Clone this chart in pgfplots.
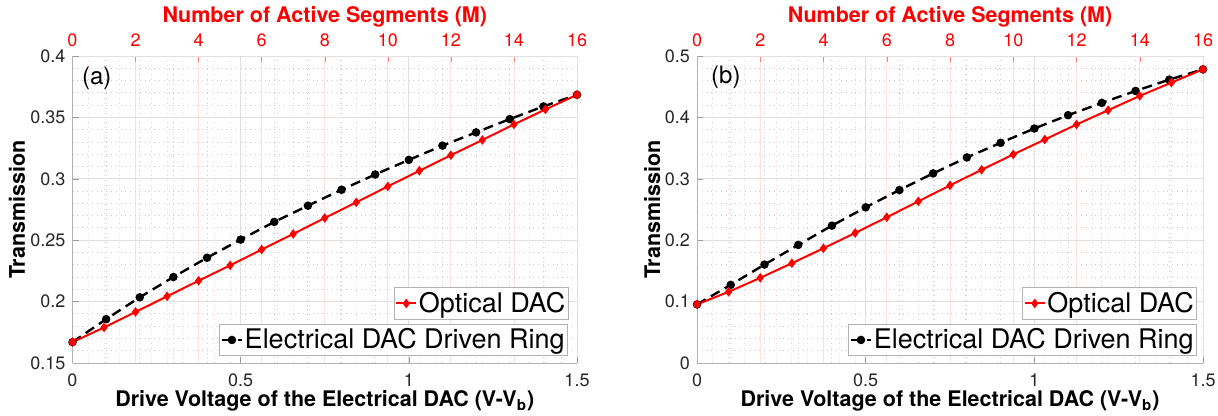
\documentclass[border=0pt]{standalone}
\usepackage{fontspec}
\setmainfont{TeX Gyre Heros}
\usepackage{pgfplots}
\usepackage{pgfplotstable}
\pgfplotsset{compat=1.18}

% Transmission vs. drive voltage, panel (a)
\pgfplotstableread{
x y
0       0.1670
0.09375 0.1789
0.1875  0.1916
0.28125 0.2043
0.375   0.2170
0.46875 0.2295
0.5625  0.2424
0.65625 0.2551
0.75    0.2681
0.84375 0.2808
0.9375  0.2938
1.03125 0.3065
1.125   0.3192
1.21875 0.3316
1.3125  0.3443
1.40625 0.3565
1.5     0.3684
}\opticalA
\pgfplotstableread{
x y
0.0 0.1670
0.1 0.1857
0.2 0.2035
0.3 0.2200
0.4 0.2357
0.5 0.2505
0.6 0.2649
0.7 0.2781
0.8 0.2911
0.9 0.3035
1.0 0.3154
1.1 0.3270
1.2 0.3378
1.3 0.3486
1.4 0.3589
1.5 0.3684
}\electricalA
% panel (b)
\pgfplotstableread{
x y
0       0.0955
0.09375 0.1159
0.1875  0.1387
0.28125 0.1625
0.375   0.1869
0.46875 0.2118
0.5625  0.2373
0.65625 0.2633
0.75    0.2893
0.84375 0.3147
0.9375  0.3397
1.03125 0.3640
1.125   0.3884
1.21875 0.4117
1.3125  0.4350
1.40625 0.4567
1.5     0.4783
}\opticalB
\pgfplotstableread{
x y
0.0 0.0955
0.1 0.1273
0.2 0.1603
0.3 0.1923
0.4 0.2237
0.5 0.2535
0.6 0.2817
0.7 0.3088
0.8 0.3348
0.9 0.3586
1.0 0.3819
1.1 0.4036
1.2 0.4236
1.3 0.4431
1.4 0.4615
1.5 0.4783
}\electricalB

\newcommand{\tickfont}{\fontsize{9}{11}\selectfont}
\newcommand{\labfont}{\bfseries\fontsize{10.75}{13}\selectfont}

\pgfplotsset{
  frame/.style={
    anchor=south west, scale only axis, height=153.5pt,
    tick align=inside, major tick length=3pt, minor tick length=0pt,
    ticklabel style={font=\tickfont},
  },
  % top scale: number of active segments, with its own grid
  segscale/.style={
    frame, xmin=0, xmax=16, ymin=0, ymax=1,
    axis x line*=top, axis y line*=right,
    x axis line style={red!45, -}, y axis line style={black!30, -},
    xtick={0,2,...,16}, xticklabels={0,2,4,6,8,10,12,14,16},
    minor x tick num=3, ytick=\empty,
    xmajorgrids, xminorgrids,
    major x grid style={red!12, line width=0.4pt},
    minor x grid style={red!20, dotted, line width=0.45pt},
    x tick style={red!50},
    xticklabel style={text=red, anchor=base, yshift=4.6pt},
    xlabel={Number of Active Segments (M)},
    xlabel style={font=\labfont, text=red, at={(rel axis cs:0.5,1)}, anchor=base, yshift=16.5pt},
  },
  % bottom scale: drive voltage, carries the data
  volt/.style={
    frame, xmin=0, xmax=1.5,
    axis x line*=bottom, axis y line*=left,
    axis line style={black!30, -},
    xtick={0,0.5,1,1.5}, xticklabels={0,0.5,1,1.5},
    minor x tick num=4, minor y tick num=4,
    grid=both,
    major grid style={black!12, line width=0.4pt},
    minor grid style={black!20, dotted, line width=0.45pt},
    tick style={black!40},
    xticklabel style={text=black!85, anchor=base, yshift=-12pt},
    yticklabel style={text=black!85},
    xlabel={Drive Voltage of the Electrical DAC (V-V\textsubscript{b})},
    xlabel style={font=\labfont, at={(rel axis cs:0.5,0)}, anchor=base, yshift=-22pt},
    ylabel={Transmission},
    ylabel style={font=\labfont, at={(rel axis cs:0,0.5)}, anchor=base, rotate=0},
  },
  dacleg/.style={
    legend style={at={(rel axis cs:#1)}, anchor=south east,
      draw=black!30, line width=0.4pt, fill=white,
      font=\fontsize{13.5}{15}\selectfont,
      inner xsep=0.6pt, inner ysep=1.2pt,
      nodes={inner sep=0.8pt}, cells={anchor=west}},
    legend image code/.code={%
      \draw[mark repeat=2, mark phase=2, ##1] plot coordinates {(0pt,0pt) (5pt,0pt) (10pt,0pt)};},
  },
  optical/.style={red, line width=1pt, mark=diamond*, mark size=1.6pt, mark options={solid}},
  electrical/.style={black, line width=1.2pt, dash pattern=on 5pt off 3pt, mark=*, mark size=1.5pt, mark options={solid}},
}

\begin{document}
\begin{tikzpicture}
\useasboundingbox (0,0) rectangle (609pt,208pt);

% ---------------- (a) ----------------
\begin{axis}[segscale, at={(36.25pt,26.5pt)}, width=252.25pt]
\end{axis}
\begin{axis}[volt, at={(36.25pt,26.5pt)}, width=252.25pt,
  ymin=0.15, ymax=0.4,
  ytick={0.15,0.2,0.25,0.3,0.35,0.4},
  yticklabels={0.15,0.2,0.25,0.3,0.35,0.4},
  ylabel style={yshift=23.75pt},
  dacleg={0.983,0.142}]
\addplot[electrical, forget plot] table[x=x, y=y] {\electricalA};
\addplot[optical] table[x=x, y=y] {\opticalA};
\addlegendentry{Optical DAC}
\addplot[red, only marks, mark=*, mark size=1.6pt, forget plot] coordinates {(0,0.1670) (1.5,0.3684)};
\node[font=\fontsize{12}{14}\selectfont, anchor=center] at (rel axis cs:0.048,0.927) {(a)};
\end{axis}
\begin{axis}[frame, at={(36.25pt,26.5pt)}, width=252.25pt, hide axis,
  xmin=0, xmax=1, ymin=0, ymax=1, dacleg={0.982,0.023}]
\addlegendimage{electrical}
\addlegendentry{Electrical DAC Driven Ring}
\end{axis}

% ---------------- (b) ----------------
\begin{axis}[segscale, at={(348.5pt,26.5pt)}, width=253pt]
\end{axis}
\begin{axis}[volt, at={(348.5pt,26.5pt)}, width=253pt,
  ymin=0, ymax=0.5,
  ytick={0,0.1,0.2,0.3,0.4,0.5},
  yticklabels={0,0.1,0.2,0.3,0.4,0.5},
  ylabel style={yshift=18.5pt},
  dacleg={0.988,0.142}]
\addplot[electrical, forget plot] table[x=x, y=y] {\electricalB};
\addplot[optical] table[x=x, y=y] {\opticalB};
\addlegendentry{Optical DAC}
\addplot[red, only marks, mark=*, mark size=1.6pt, forget plot] coordinates {(0,0.0955) (1.5,0.4783)};
\node[font=\fontsize{12}{14}\selectfont, anchor=center] at (rel axis cs:0.057,0.93) {(b)};
\end{axis}
\begin{axis}[frame, at={(348.5pt,26.5pt)}, width=253pt, hide axis,
  xmin=0, xmax=1, ymin=0, ymax=1, dacleg={0.988,0.023}]
\addlegendimage{electrical}
\addlegendentry{Electrical DAC Driven Ring}
\end{axis}
\end{tikzpicture}
\end{document}
